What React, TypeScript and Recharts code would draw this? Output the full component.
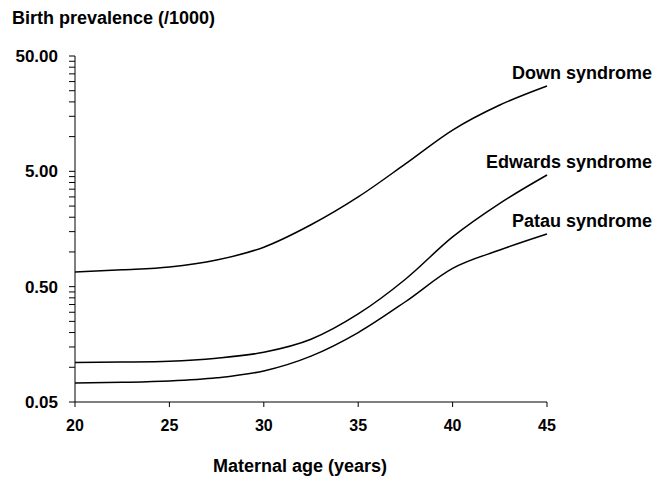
import React from 'react';
import { LineChart, Line, XAxis, YAxis } from 'recharts';

const AGES = [20, 22.5, 25, 27.5, 30, 32.5, 35, 37.5, 40, 42.5, 45];
const DOWN = [0.67, 0.7, 0.74, 0.85, 1.1, 1.72, 3.0, 5.8, 11.4, 18.8, 27.5];
const EDWARDS = [0.11, 0.111, 0.113, 0.12, 0.135, 0.175, 0.29, 0.58, 1.35, 2.64, 4.65];
const PATAU = [0.073, 0.074, 0.076, 0.081, 0.093, 0.125, 0.2, 0.37, 0.72, 1.04, 1.43];

const X_TICKS = [20, 25, 30, 35, 40, 45];
const Y_MAJOR = [0.05, 0.5, 5, 50];
// log minor ticks: 2..9 times each decade start
const Y_TICKS = Y_MAJOR.flatMap((d, i) =>
  i < Y_MAJOR.length - 1 ? [1, 2, 3, 4, 5, 6, 7, 8, 9].map((k) => +(d * k).toPrecision(3)) : [d]
);

const data = AGES.map((age, i) => ({ age, down: DOWN[i], edwards: EDWARDS[i], patau: PATAU[i] }));

const FONT = '"Liberation Sans", Arial, sans-serif';

const YTick = ({ x, y, payload }: any) =>
  Y_MAJOR.includes(payload.value) ? (
    <text x={x} y={y} dy={6} textAnchor="end" fontFamily={FONT} fontWeight="bold" fontSize={17} fill="#000">
      {payload.value.toFixed(2)}
    </text>
  ) : null;

const XTick = ({ x, y, payload }: any) => (
  <text x={x} y={y} dy={22} textAnchor="middle" fontFamily={FONT} fontWeight="bold" fontSize={16} fill="#000">
    {payload.value}
  </text>
);

const endLabel = (name: string) => (props: any) => {
  const { x, y, index } = props;
  if (index !== AGES.length - 1) return null;
  return (
    <text x={x + 105} y={y - 7} textAnchor="end" fontFamily={FONT} fontWeight="bold" fontSize={18} fill="#000">
      {name}
    </text>
  );
};

export default function App() {
  return (
    <div style={{ position: 'absolute', left: 0, top: 0, width: 654, height: 479, background: '#fff' }}>
      <div style={{ position: 'absolute', left: 12, top: 8, fontFamily: FONT, fontWeight: 'bold', fontSize: 18 }}>
        Birth prevalence (/1000)
      </div>
      <div style={{ position: 'absolute', left: 0, width: 600, top: 456, textAlign: 'center', fontFamily: FONT, fontWeight: 'bold', fontSize: 18 }}>
        Maternal age (years)
      </div>
      <LineChart width={654} height={479} data={data} margin={{ top: 56, right: 107, bottom: 0, left: 0 }}>
        <XAxis
          dataKey="age"
          type="number"
          domain={[20, 45]}
          ticks={X_TICKS}
          height={77}
          stroke="#000"
          tickSize={5}
          tickMargin={2}
          tick={<XTick />}
          interval={0}
        />
        <YAxis
          scale="log"
          domain={[0.05, 50]}
          ticks={Y_TICKS}
          width={75}
          stroke="#000"
          tickSize={6}
          tickMargin={11}
          tick={<YTick />}
          interval={0}
          allowDataOverflow
        />
        <Line type="monotone" dataKey="down" stroke="#000" strokeWidth={1.5} dot={false} isAnimationActive={false} label={endLabel('Down syndrome')} />
        <Line type="monotone" dataKey="edwards" stroke="#000" strokeWidth={1.5} dot={false} isAnimationActive={false} label={endLabel('Edwards syndrome')} />
        <Line type="monotone" dataKey="patau" stroke="#000" strokeWidth={1.5} dot={false} isAnimationActive={false} label={endLabel('Patau syndrome')} />
      </LineChart>
    </div>
  );
}
